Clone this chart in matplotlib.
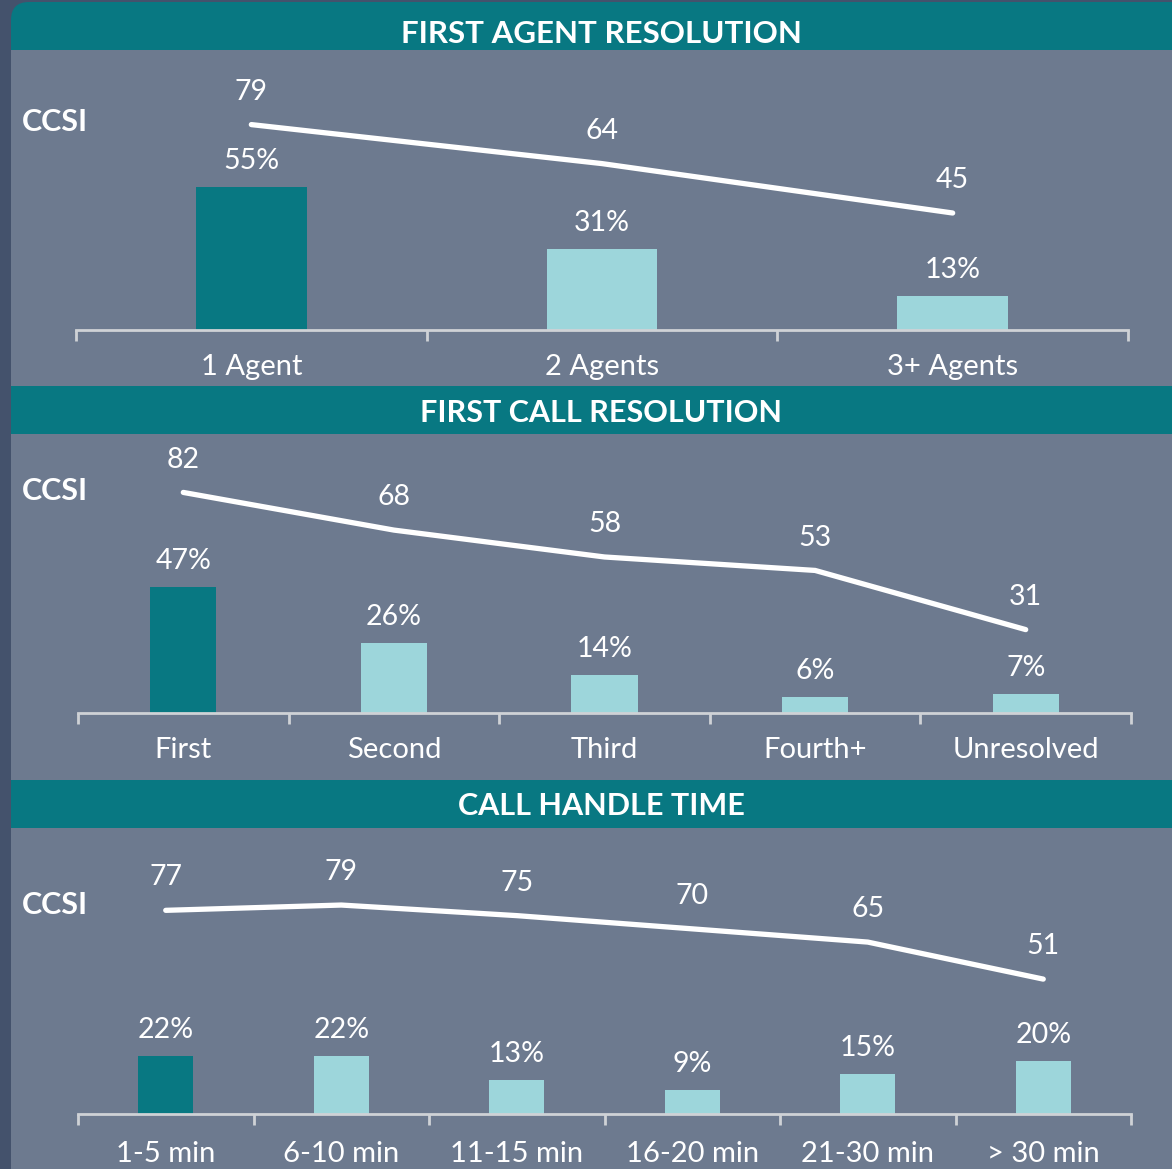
import matplotlib.pyplot as plt
from matplotlib.patches import FancyBboxPatch, Rectangle

plt.rcParams['font.family'] = ['Lato', 'DejaVu Sans']

# data
agent_cats = ['1 Agent', '2 Agents', '3+ Agents']
agent_share = [55, 31, 13]
agent_ccsi = [79, 64, 45]

call_cats = ['First', 'Second', 'Third', 'Fourth+', 'Unresolved']
call_share = [47, 26, 14, 6, 7]
call_ccsi = [82, 68, 58, 53, 31]

time_cats = ['1-5 min', '6-10 min', '11-15 min', '16-20 min', '21-30 min', '> 30 min']
time_share = [22, 22, 13, 9, 15, 20]
time_ccsi = [77, 79, 75, 70, 65, 51]

titles = ['FIRST AGENT RESOLUTION', 'FIRST CALL RESOLUTION', 'CALL HANDLE TIME']

W, H = 1172, 1169
BG = '#6d7a8f'
TEAL = '#087882'
LIGHT = '#9dd6db'
DARK = '#44526c'
AXIS = '#cfd2d6'

fig = plt.figure(figsize=(W / 100, H / 100), dpi=100, facecolor=DARK)

# background layer in pixel coordinates
bg = fig.add_axes([0, 0, 1, 1])
bg.set_xlim(0, W)
bg.set_ylim(H, 0)
bg.axis('off')
bg.add_patch(FancyBboxPatch((11, 2), W + 100, H + 100,
                            boxstyle='round,pad=0,rounding_size=18',
                            fc=TEAL, ec='none'))
# panel bodies (the teal left between them are the header bands)
bodies = [(50, 386), (434, 780), (828, H + 10)]
for top, bot in bodies:
    bg.add_patch(Rectangle((11, top), W, bot - top, fc=BG, ec='none'))
title_y = [34, 413, 806]
title_size = [22.5, 22, 22]
for t, y, fs in zip(titles, title_y, title_size):
    bg.text(601, y, t, ha='center', va='center', color='white',
            fontsize=fs, fontweight='bold')

# panel axes: left px, right px, baseline px, top px, px per unit, ccsi label y, label offset
panels = [
    (agent_cats, agent_share, agent_ccsi, 76, 1128, 330, 50, 2.60, 122, -26.5),
    (call_cats, call_share, call_ccsi, 78, 1131, 713, 434, 2.69, 491, -26.5),
    (time_cats, time_share, time_ccsi, 78, 1131, 1114, 828, 2.645, 905, -29),
]

for cats, share, ccsi, x0, x1, base, top, scale, ccsi_y, lab_off in panels:
    n = len(cats)
    ax = fig.add_axes([x0 / W, (H - base) / H, (x1 - x0) / W, (base - top) / H])
    ax.patch.set_alpha(0)
    ax.set_xlim(0, n)
    ax.set_ylim(0, (base - top) / scale)
    for s in ['top', 'left', 'right']:
        ax.spines[s].set_visible(False)
    ax.spines['bottom'].set_color(AXIS)
    ax.spines['bottom'].set_linewidth(2)
    ax.set_yticks([])
    ax.set_xticks(range(n + 1), [''] * (n + 1))
    ax.tick_params(axis='x', length=8, width=2, color=AXIS, direction='out')

    centers = [i + 0.5 for i in range(n)]
    colors = [TEAL] + [LIGHT] * (n - 1)
    ax.bar(centers, share, width=0.315, color=colors, zorder=2, clip_on=False)
    ax.plot(centers, ccsi, color='white', lw=3.8, solid_capstyle='round',
            solid_joinstyle='miter', zorder=3, clip_on=False)

    for c, v in zip(centers, share):
        ax.annotate(f'{v}%', (c, v), xytext=(0, 18.7), textcoords='offset points',
                    ha='center', va='center', color='white', fontsize=20.5)
    for c, v in zip(centers, ccsi):
        ax.annotate(f'{v}', (c, v), xytext=(0, 23.7), textcoords='offset points',
                    ha='center', va='center', color='white', fontsize=20.5)
    for c, lab in zip(centers, cats):
        ax.annotate(lab, (c, 0), xytext=(0, lab_off), textcoords='offset points',
                    ha='center', va='center', color='white', fontsize=21,
                    annotation_clip=False)

    bg.text(22, ccsi_y, 'CCSI', ha='left', va='center', color='white',
            fontsize=22, fontweight='bold')

fig.savefig('out.png', dpi=100, facecolor=DARK)
